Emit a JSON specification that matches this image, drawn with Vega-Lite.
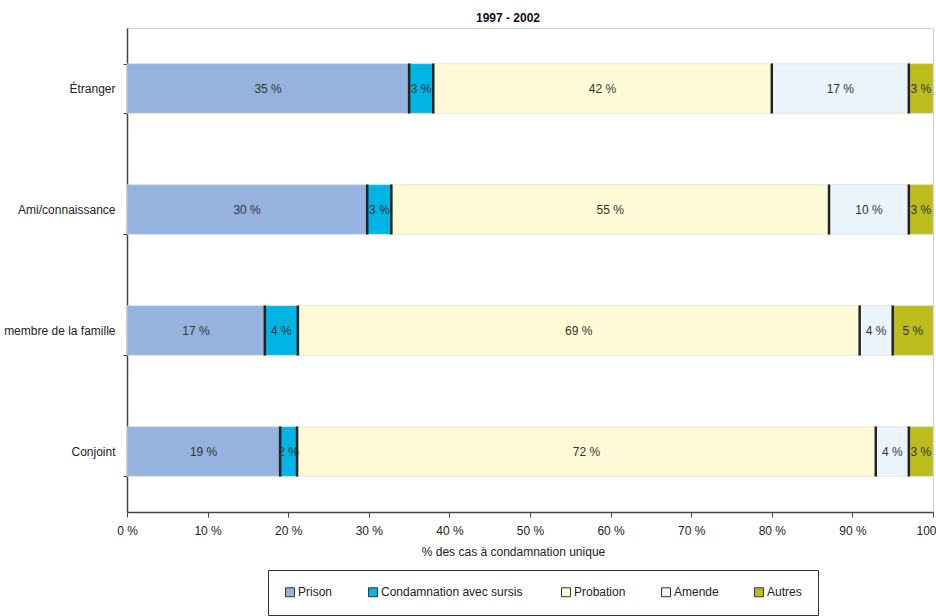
{
  "$schema": "https://vega.github.io/schema/vega-lite/v6.json",
  "autosize": "none",
  "width": 806,
  "height": 484,
  "padding": {"left": 127, "top": 28, "right": 3, "bottom": 104},
  "background": "white",
  "title": {"text": "1997 - 2002", "fontSize": 12, "fontWeight": "bold", "font": "Liberation Sans Narrow, Liberation Sans, Arial", "color": "#111", "anchor": "middle", "dx": -22, "offset": -3},
  "config": {
    "view": {"stroke": "#cfcfcf", "strokeWidth": 1},
    "font": "Liberation Sans Narrow, Liberation Sans, Arial",
    "axis": {"labelFont": "Liberation Sans Narrow, Liberation Sans, Arial", "labelFontSize": 12, "labelColor": "#222", "titleFont": "Liberation Sans Narrow, Liberation Sans, Arial", "titleFontSize": 12, "titleFontWeight": "normal", "titleColor": "#222", "domainColor": "#444", "tickColor": "#444", "grid": false}
  },
  "data": {
    "values": [
      {"cat": "Étranger", "type": "Prison", "k": 0, "value": 35.0, "label": "35 %"},
      {"cat": "Étranger", "type": "Condamnation  avec sursis", "k": 1, "value": 3.0, "label": "3 %"},
      {"cat": "Étranger", "type": "Probation", "k": 2, "value": 42.0, "label": "42 %"},
      {"cat": "Étranger", "type": "Amende", "k": 3, "value": 17.0, "label": "17 %"},
      {"cat": "Étranger", "type": "Autres", "k": 4, "value": 3.0, "label": "3 %"},
      {"cat": "Ami/connaissance", "type": "Prison", "k": 0, "value": 29.8, "label": "30 %"},
      {"cat": "Ami/connaissance", "type": "Condamnation  avec sursis", "k": 1, "value": 3.0, "label": "3 %"},
      {"cat": "Ami/connaissance", "type": "Probation", "k": 2, "value": 54.3, "label": "55 %"},
      {"cat": "Ami/connaissance", "type": "Amende", "k": 3, "value": 9.9, "label": "10 %"},
      {"cat": "Ami/connaissance", "type": "Autres", "k": 4, "value": 3.0, "label": "3 %"},
      {"cat": "membre de la  famille", "type": "Prison", "k": 0, "value": 17.1, "label": "17 %"},
      {"cat": "membre de la  famille", "type": "Condamnation  avec sursis", "k": 1, "value": 4.1, "label": "4 %"},
      {"cat": "membre de la  famille", "type": "Probation", "k": 2, "value": 69.7, "label": "69 %"},
      {"cat": "membre de la  famille", "type": "Amende", "k": 3, "value": 4.1, "label": "4 %"},
      {"cat": "membre de la  famille", "type": "Autres", "k": 4, "value": 5.0, "label": "5 %"},
      {"cat": "Conjoint", "type": "Prison", "k": 0, "value": 19.0, "label": "19 %"},
      {"cat": "Conjoint", "type": "Condamnation  avec sursis", "k": 1, "value": 2.1, "label": "2 %"},
      {"cat": "Conjoint", "type": "Probation", "k": 2, "value": 71.8, "label": "72 %"},
      {"cat": "Conjoint", "type": "Amende", "k": 3, "value": 4.1, "label": "4 %"},
      {"cat": "Conjoint", "type": "Autres", "k": 4, "value": 3.0, "label": "3 %"}
    ]
  },
  "transform": [
    {"stack": "value", "groupby": ["cat"], "sort": [{"field": "k", "order": "ascending"}], "as": ["x0", "x1"]},
    {"calculate": "(datum.x0 + datum.x1) / 2", "as": "xm"}
  ],
  "encoding": {
    "y": {
      "field": "cat", "type": "nominal",
      "sort": ["Étranger", "Ami/connaissance", "membre de la  famille", "Conjoint"],
      "scale": {"paddingInner": 0.59, "paddingOuter": 0.295},
      "axis": {"title": null, "tickBand": "extent", "tickSize": 4, "labelPadding": 8, "domainWidth": 1.5}
    }
  },
  "layer": [
    {
      "mark": {"type": "bar", "stroke": "#d9d9c8", "strokeWidth": 0.6},
      "encoding": {
        "x": {
          "field": "x0", "type": "quantitative",
          "scale": {"domain": [0, 100], "nice": false},
          "axis": {"title": "% des cas à condamnation unique", "values": [0,10,20,30,40,50,60,70,80,90,100], "labelExpr": "datum.value + ' %'", "labelFlush": false, "labelOverlap": false, "tickSize": 5, "labelPadding": 8, "titlePadding": 10, "domainWidth": 1.5, "titleX": 386}
        },
        "x2": {"field": "x1"},
        "color": {
          "field": "type", "type": "nominal",
          "sort": ["Prison", "Condamnation  avec sursis", "Probation", "Amende", "Autres"],
          "scale": {"domain": ["Prison", "Condamnation  avec sursis", "Probation", "Amende", "Autres"], "range": ["#95b3de", "#00b4e4", "#fffad6", "#eaf4fd", "#bcbd1c"]},
          "legend": {
            "title": null, "orient": "none", "legendX": 141, "legendY": 542,
            "direction": "horizontal", "columns": 5,
            "strokeColor": "#333", "padding": 16,
            "symbolType": "square", "symbolSize": 80, "symbolStrokeColor": "#333", "symbolStrokeWidth": 1,
            "labelFontSize": 12, "labelColor": "#222", "labelOffset": 2, "columnPadding": 33
          }
        }
      }
    },
    {
      "transform": [{"filter": "datum.k > 0"}],
      "mark": {"type": "tick", "color": "#222", "thickness": 2.5, "size": 50, "opacity": 1},
      "encoding": {
        "x": {"field": "x0", "type": "quantitative"}
      }
    },
    {
      "mark": {"type": "text", "fontSize": 12, "color": "#333"},
      "encoding": {
        "x": {"field": "xm", "type": "quantitative"},
        "text": {"field": "label"}
      }
    }
  ]
}
